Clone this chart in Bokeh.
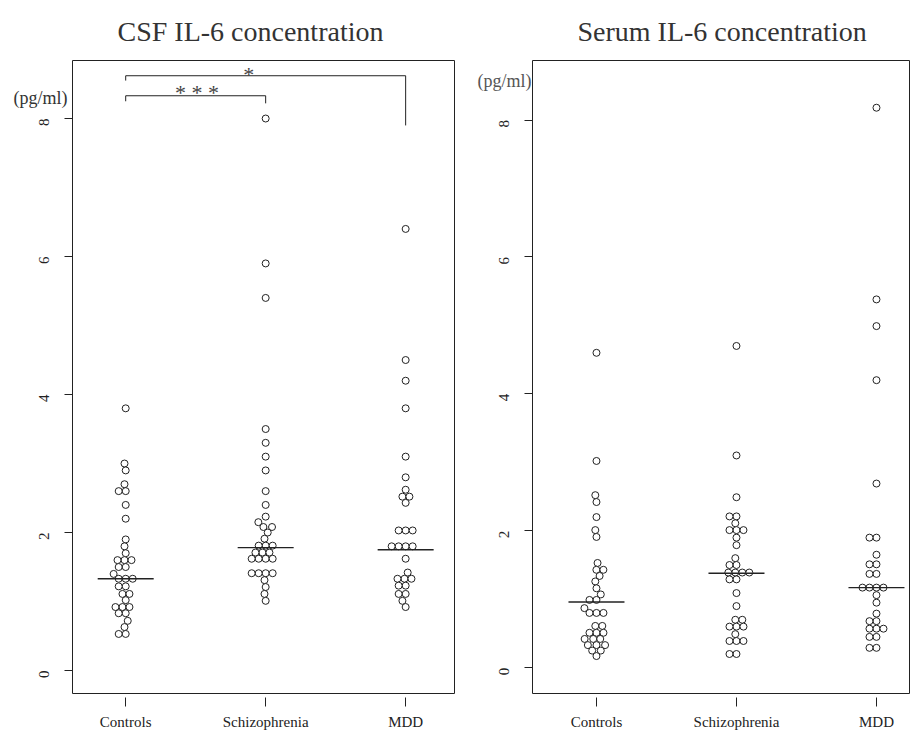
import math
from bokeh.plotting import figure
from bokeh.layouts import row
from bokeh.models import FixedTicker, Range1d, Label, LinearAxis
from bokeh.embed import file_html
from bokeh.resources import INLINE

# ---------------- data ----------------
groups = ["Controls", "Schizophrenia", "MDD"]
group_pos = [1, 2, 3]

csf_controls = [3.8, 3.0, 2.9, 2.7, 2.6, 2.6, 2.4, 2.2, 1.9, 1.8, 1.7, 1.6, 1.6, 1.6,
                1.5, 1.5, 1.4, 1.33, 1.33, 1.33, 1.22, 1.22, 1.11, 1.11, 1.02, 0.92,
                0.92, 0.92, 0.83, 0.83, 0.72, 0.63, 0.53, 0.53]
csf_schizo = [8.0, 5.9, 5.4, 3.5, 3.3, 3.1, 2.9, 2.6, 2.4, 2.23, 2.15, 2.08, 2.08, 2.0,
              1.91, 1.81, 1.81, 1.81, 1.71, 1.71, 1.71, 1.62, 1.62, 1.62, 1.62, 1.41,
              1.41, 1.41, 1.41, 1.31, 1.21, 1.11, 1.01]
csf_mdd = [6.4, 4.5, 4.2, 3.8, 3.1, 2.8, 2.62, 2.52, 2.52, 2.43, 2.03, 2.03, 2.03, 1.8,
           1.8, 1.8, 1.8, 1.62, 1.42, 1.33, 1.33, 1.33, 1.23, 1.23, 1.11, 1.11, 1.01, 0.92]

serum_controls = [4.6, 3.02, 2.52, 2.42, 2.2, 2.01, 1.91, 1.53, 1.43, 1.43, 1.34, 1.26,
                  1.16, 1.07, 0.99, 0.99, 0.87, 0.8, 0.8, 0.8, 0.61, 0.61, 0.51, 0.51,
                  0.51, 0.42, 0.42, 0.42, 0.33, 0.33, 0.33, 0.25, 0.25, 0.17]
serum_schizo = [4.7, 3.1, 2.49, 2.21, 2.21, 2.11, 2.01, 2.01, 2.01, 1.9, 1.79, 1.6, 1.5,
                1.5, 1.39, 1.39, 1.39, 1.39, 1.29, 1.29, 1.09, 0.9, 0.7, 0.7, 0.6, 0.6,
                0.6, 0.49, 0.39, 0.39, 0.39, 0.2, 0.2]
serum_mdd = [8.18, 5.38, 4.99, 4.2, 2.69, 1.9, 1.9, 1.65, 1.51, 1.51, 1.37, 1.37, 1.17,
             1.17, 1.17, 1.17, 1.06, 0.95, 0.79, 0.68, 0.68, 0.57, 0.57, 0.57, 0.45,
             0.45, 0.29, 0.29]

csf_medians = [1.33, 1.78, 1.75]
serum_medians = [0.96, 1.38, 1.17]

y_ticks = [0, 2, 4, 6, 8]
unit_text = "(pg/ml)"

# significance brackets for the CSF panel
sig_from = [1, 1]
sig_to = [2, 3]
sig_bar_y = [8.33, 8.62]
sig_left_end = [8.25, 8.55]
sig_right_end = [8.22, 7.90]
sig_labels = ["* * *", "*"]
sig_label_x = [1.51, 1.88]
sig_label_y = [8.37, 8.64]

# ---------------- layout helpers ----------------
PX_X = 140.0   # pixels per x unit
PX_Y = 69.0    # pixels per y unit
DIAM = 7.0     # marker diameter in px
MED_HALF = 0.2
SERIF = "Liberation Serif"
INK = "#222222"


def swarm(vals, center):
    """Simple beeswarm: place each point as near the centre as possible without overlap."""
    placed = []
    xs = [0.0] * len(vals)
    order = sorted(range(len(vals)), key=lambda i: vals[i])
    for i in order:
        y = vals[i] * PX_Y
        near = [(px, py) for px, py in placed if abs(py - y) < DIAM]
        cands = [0.0]
        for px, py in near:
            dx = math.sqrt(max(DIAM ** 2 - (py - y) ** 2, 0.0))
            cands += [px + dx, px - dx]
        cands.sort(key=lambda c: (abs(c), c))
        chosen = cands[-1]
        for c in cands:
            if all((c - px) ** 2 + (y - py) ** 2 >= DIAM ** 2 - 1e-6 for px, py in near):
                chosen = c
                break
        placed.append((chosen, y))
        xs[i] = center + chosen / PX_X
    return xs


def make_panel(title, series, medians, xr, yr, width, bl, br, bb, unit_y, unit_standoff,
               unit_color):
    p = figure(width=width, height=738, x_range=Range1d(*xr), y_range=Range1d(*yr),
               output_backend="svg", toolbar_location=None,
               min_border_left=bl, min_border_right=br, min_border_top=60,
               min_border_bottom=bb)
    p.title.text = title
    p.title.align = "left"
    p.title.offset = 45
    p.title.text_font = SERIF
    p.title.text_font_size = "28px"
    p.title.text_font_style = "normal"
    p.title.text_color = "#333333"
    p.title.standoff = 27
    p.grid.visible = False
    p.outline_line_color = INK
    p.outline_line_width = 1
    p.background_fill_color = "white"
    p.border_fill_color = "white"

    xa = p.xaxis[0]
    xa.ticker = FixedTicker(ticks=group_pos)
    xa.major_label_overrides = {gp: g for gp, g in zip(group_pos, groups)}
    xa.axis_line_color = None
    xa.major_tick_in = -4
    xa.major_tick_out = 13
    xa.major_tick_line_color = INK
    xa.minor_tick_line_color = None
    xa.major_label_standoff = 7
    xa.major_label_text_font = SERIF
    xa.major_label_text_font_size = "15px"
    xa.major_label_text_color = INK

    ya = p.yaxis[0]
    ya.ticker = FixedTicker(ticks=y_ticks)
    ya.axis_line_color = None
    ya.major_tick_in = 0
    ya.major_tick_out = 8
    ya.major_tick_line_color = INK
    ya.minor_tick_line_color = None
    ya.major_label_orientation = math.pi / 2
    ya.major_label_standoff = 20
    ya.major_label_text_font = SERIF
    ya.major_label_text_font_size = "15px"
    ya.major_label_text_color = INK

    # unit text "(pg/ml)" carried by a second, tick-less axis
    ua = LinearAxis(ticker=FixedTicker(ticks=[unit_y]),
                    major_label_overrides={unit_y: unit_text})
    ua.axis_line_color = None
    ua.major_tick_line_color = None
    ua.minor_tick_line_color = None
    ua.major_tick_in = 0
    ua.major_tick_out = 0
    ua.major_label_orientation = "horizontal"
    ua.major_label_standoff = unit_standoff
    ua.major_label_text_font = SERIF
    ua.major_label_text_font_size = "18px"
    ua.major_label_text_color = unit_color
    p.add_layout(ua, "left")

    for pos, vals in zip(group_pos, series):
        xs = swarm(vals, pos)
        p.scatter(xs, vals, marker="circle", size=DIAM, line_color=INK, line_width=1,
                  fill_color="white")
    p.segment(x0=[c - MED_HALF for c in group_pos], y0=medians,
              x1=[c + MED_HALF for c in group_pos], y1=medians,
              line_color=INK, line_width=1.3)
    return p


p1 = make_panel("CSF IL-6 concentration", [csf_controls, csf_schizo, csf_mdd], csf_medians,
                (0.62, 3.349), (-0.333, 8.841), 470, 72, 16, 45, 8.30, -36, "#333333")
p2 = make_panel("Serum IL-6 concentration", [serum_controls, serum_schizo, serum_mdd],
                serum_medians, (0.543, 3.243), (-0.377, 8.870), 440, 62, 0, 40, 8.57, -40,
                "#555555")

# significance brackets
p1.multi_line(xs=[[a, a, b, b] for a, b in zip(sig_from, sig_to)],
              ys=[[l, m, m, r] for l, m, r in zip(sig_left_end, sig_bar_y, sig_right_end)],
              line_color=INK, line_width=1)
for t, lx, ly in zip(sig_labels, sig_label_x, sig_label_y):
    p1.add_layout(Label(x=lx, y=ly, text=t, text_align="center", text_baseline="alphabetic",
                        text_font=SERIF, text_font_size="22px", text_color="#444444"))

layout = row(p1, p2)
open("out.html", "w").write(file_html(layout, INLINE))
